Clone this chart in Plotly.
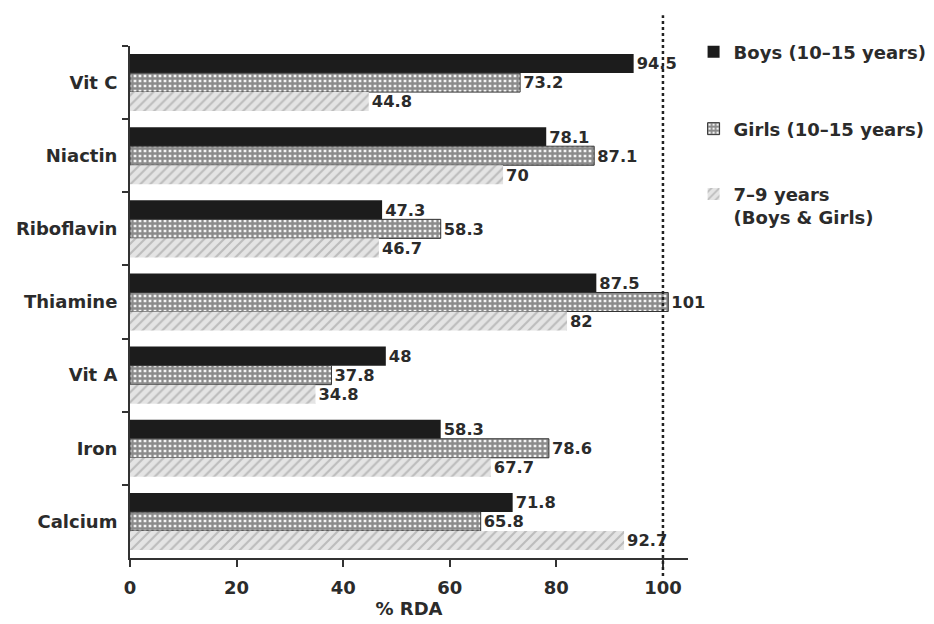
import plotly.graph_objects as go

nutrients = ["Vit C", "Niactin", "Riboflavin", "Thiamine", "Vit A", "Iron", "Calcium"]
boys = [94.5, 78.1, 47.3, 87.5, 48, 58.3, 71.8]
girls = [73.2, 87.1, 58.3, 101, 37.8, 78.6, 65.8]
kids = [44.8, 70, 46.7, 82, 34.8, 67.7, 92.7]
boys_label = [str(v) for v in boys]
girls_label = [str(v) for v in girls]
kids_label = [str(v) for v in kids]

FONT = "DejaVu Sans"
TXT = dict(family=FONT, size=18, color="#2b2b2b", weight="bold")

fig = go.Figure()
fig.add_trace(go.Bar(
    y=nutrients, x=boys, orientation="h", name="Boys (10–15 years)",
    marker=dict(color="#1c1c1c", line=dict(width=0)),
    text=boys_label, textposition="outside", textfont=TXT, cliponaxis=False,
    legend="legend",
))
fig.add_trace(go.Bar(
    y=nutrients, x=girls, orientation="h", name="Girls (10–15 years)",
    marker=dict(color="white", line=dict(width=1, color="#333"),
                pattern=dict(shape="+", fgcolor="#222222", bgcolor="#f4f4f4",
                             size=5, solidity=0.7)),
    text=girls_label, textposition="outside", textfont=TXT, cliponaxis=False,
    legend="legend2",
))
fig.add_trace(go.Bar(
    y=nutrients, x=kids, orientation="h", name="7–9 years<br>(Boys & Girls)",
    marker=dict(color="#dedede", line=dict(width=0),
                pattern=dict(shape="/", fgcolor="#939393", bgcolor="#e4e4e4",
                             size=7, solidity=0.3)),
    text=kids_label, textposition="outside", textfont=TXT, cliponaxis=False,
    legend="legend3",
))

# reference line at 100% RDA
fig.add_shape(type="line", xref="x", yref="paper", x0=100, x1=100, y0=-0.035, y1=1.06,
              line=dict(color="#222", width=2.5, dash="dot"))

LEG = dict(font=dict(family=FONT, size=18, color="#2b2b2b", weight="bold"),
           bgcolor="rgba(0,0,0,0)", xanchor="left", yanchor="middle", x=1.01,
           itemclick=False, valign="top")
fig.update_layout(
    width=934, height=624,
    margin=dict(l=122, r=254, t=38, b=74, autoexpand=False),
    paper_bgcolor="white", plot_bgcolor="white",
    barmode="group", bargap=0.22, bargroupgap=0,
    showlegend=True,
    legend=dict(LEG, y=0.988),
    legend2=dict(LEG, y=0.838),
    legend3=dict(LEG, y=0.688),
    xaxis=dict(range=[0, 104.7], tickvals=[0, 20, 40, 60, 80, 100],
               showgrid=False, zeroline=False, showline=True, linecolor="#333",
               linewidth=2, ticks="outside", ticklen=7, tickwidth=1.5, tickcolor="#333",
               automargin=False, ticklabelstandoff=5,
               tickfont=dict(family=FONT, size=18, color="#2b2b2b", weight="bold"),
               title=dict(text="% RDA", standoff=4,
                          font=dict(family=FONT, size=18, color="#2b2b2b", weight="bold"))),
    yaxis=dict(autorange="reversed", showgrid=False, zeroline=False, showline=True,
               linecolor="#333", linewidth=2, ticks="outside", ticklen=6, tickwidth=1.5,
               tickcolor="#333", tickson="boundaries", automargin=False,
               ticklabelstandoff=7,
               tickfont=dict(family=FONT, size=18, color="#2b2b2b", weight="bold")),
)

fig.write_html("out.html")
